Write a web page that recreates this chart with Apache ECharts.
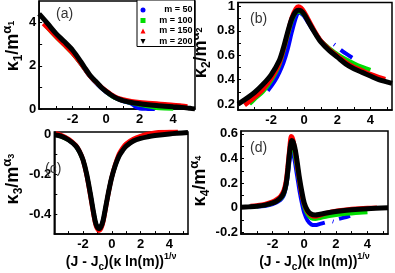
<!DOCTYPE html>
<html><head><meta charset="utf-8">
<script src="https://cdn.jsdelivr.net/npm/echarts@6/dist/echarts.min.js"></script>
<style>html,body{margin:0;padding:0;background:#fff}#c{width:395px;height:273px}</style>
</head><body><div id="c"></div>
<script>
// ---------- data ----------
const seriesNames = ['m = 50', 'm = 100', 'm = 150', 'm = 200'];
const panelLabels = ['(a)', '(b)', '(c)', '(d)'];
const xTickLabels = [-2, 0, 2, 4];
const xTicks = [-3, -2, -1, 0, 1, 2, 3, 4, 5];
const yTickLabelsA = [0, 2, 4];
const yTickLabelsB = [0.2, 0.4, 0.6, 0.8, 1];
const yTickLabelsC = [-0.4, -0.2, 0];
const yTickLabelsD = [-0.2, 0, 0.2, 0.4, 0.6];

// panel (a): kappa_1 / m^alpha_1
const k1_m50 = [[-3.0,3.40],[-2.5,2.98],[-2.0,2.58],[-1.5,2.08],[-1.0,1.54],[-0.5,1.12],[0,0.78],[0.5,0.52],[1.0,0.37],[1.5,0.25],[1.75,0.10],[2.0,0.02],[2.5,0.005],[2.9,0.0]];
const k1_m100 = [[-3.6,3.85],[-3.0,3.34],[-2.5,2.96],[-2.0,2.56],[-1.5,2.08],[-1.0,1.55],[-0.5,1.14],[0,0.80],[0.5,0.52],[1.0,0.38],[1.5,0.28],[2.0,0.20],[2.5,0.13],[3.0,0.05],[3.5,0.02],[4.0,0.01]];
const k1_m150 = [[-3.75,3.95],[-3.5,3.76],[-3.0,3.36],[-2.5,2.98],[-2.0,2.58],[-1.5,2.10],[-1.0,1.56],[-0.5,1.16],[0,0.84],[0.5,0.58],[1.0,0.44],[1.5,0.36],[2.0,0.31],[2.5,0.28],[3.0,0.25],[3.5,0.22],[4.0,0.19],[4.5,0.15],[4.85,0.12]];
const k1_m200 = [[-4.0,4.40],[-3.5,3.96],[-3.0,3.50],[-2.5,3.12],[-2.0,2.72],[-1.5,2.18],[-1.25,1.88],[-1.0,1.60],[-0.75,1.38],[-0.5,1.18],[-0.25,0.97],[0,0.81],[0.25,0.67],[0.5,0.55],[0.75,0.46],[1.0,0.39],[1.5,0.30],[2.0,0.245],[2.5,0.20],[3.0,0.16],[3.5,0.13],[4.0,0.10],[4.5,0.075],[5.0,0.03],[5.3,0.0]];

// panel (b): kappa_2 / m^alpha_2
const k2_m50 = [[-2.2,0.31],[-2.0,0.345],[-1.75,0.395],[-1.5,0.46],[-1.25,0.54],[-1.0,0.65],[-0.75,0.79],[-0.5,0.91],[-0.35,0.95],[-0.2,0.945],[0,0.92],[0.5,0.81],[1.0,0.72],[1.4,0.67],null,[1.8,0.69],[1.85,0.685],null,[2.2,0.645],[2.5,0.615],[2.9,0.58]];
const k2_m100 = [[-3.3,0.20],[-3.0,0.24],[-2.5,0.30],[-2.0,0.39],[-1.5,0.52],[-1.0,0.76],[-0.75,0.88],[-0.5,0.95],[-0.35,0.96],[0,0.93],[0.5,0.82],[1.0,0.72],[1.5,0.66],[2.0,0.61],[2.5,0.57],[3.0,0.535],[3.5,0.505],[4.0,0.48]];
const k2_m150 = [[-3.6,0.19],[-3.0,0.255],[-2.5,0.32],[-2.0,0.41],[-1.5,0.535],[-1.0,0.78],[-0.75,0.91],[-0.5,0.985],[-0.35,1.0],[-0.2,0.99],[0,0.955],[0.5,0.83],[1.0,0.72],[1.5,0.65],[2.0,0.595],[2.5,0.545],[3.0,0.505],[3.5,0.475],[4.0,0.445],[4.5,0.42],[4.9,0.405]];
const k2_m200 = [[-4.0,0.20],[-3.5,0.245],[-3.0,0.295],[-2.5,0.36],[-2.0,0.44],[-1.5,0.56],[-1.25,0.665],[-1.0,0.79],[-0.75,0.90],[-0.5,0.96],[-0.35,0.97],[-0.2,0.965],[0,0.935],[0.25,0.875],[0.5,0.815],[0.75,0.76],[1.0,0.71],[1.5,0.64],[2.0,0.585],[2.5,0.53],[3.0,0.49],[3.5,0.46],[4.0,0.43],[4.5,0.40],[5.3,0.37]];

// panel (c): kappa_3 / m^alpha_3
const k3_m50 = [[-3.0,-0.03],[-2.5,-0.06],[-2.0,-0.13],[-1.5,-0.295],[-1.25,-0.40],[-1.1,-0.45],[-0.9,-0.47],[-0.75,-0.46],[-0.6,-0.43],[-0.4,-0.355],[-0.2,-0.28],[0,-0.215],[0.5,-0.11],[1.0,-0.058],[1.5,-0.03],[2.0,-0.015],[2.5,-0.004],[2.8,0.002]];
const k3_m100 = [[-3.7,-0.008],[-3.0,-0.03],[-2.5,-0.06],[-2.0,-0.13],[-1.75,-0.20],[-1.5,-0.295],[-1.25,-0.40],[-1.1,-0.45],[-0.9,-0.475],[-0.75,-0.465],[-0.6,-0.432],[-0.4,-0.355],[-0.2,-0.28],[0,-0.215],[0.5,-0.108],[1.0,-0.056],[1.5,-0.03],[2.0,-0.015],[2.5,-0.006],[3.0,0.0],[3.5,0.004],[3.9,0.006]];
const k3_m150 = [[-3.9,0.004],[-3.5,-0.006],[-3.0,-0.025],[-2.5,-0.056],[-2.25,-0.085],[-2.0,-0.13],[-1.75,-0.205],[-1.5,-0.305],[-1.25,-0.41],[-1.1,-0.46],[-0.9,-0.483],[-0.75,-0.473],[-0.6,-0.44],[-0.4,-0.36],[-0.2,-0.282],[0,-0.215],[0.25,-0.15],[0.5,-0.10],[0.75,-0.07],[1.0,-0.048],[1.5,-0.025],[2.0,-0.01],[2.5,0.0],[3.0,0.006],[3.5,0.01],[4.0,0.012],[4.6,0.014]];
const k3_m200 = [[-4.0,-0.004],[-3.5,-0.012],[-3.0,-0.03],[-2.5,-0.06],[-2.25,-0.088],[-2.0,-0.13],[-1.75,-0.20],[-1.5,-0.295],[-1.25,-0.40],[-1.1,-0.45],[-0.9,-0.472],[-0.75,-0.462],[-0.6,-0.43],[-0.4,-0.355],[-0.2,-0.28],[0,-0.215],[0.25,-0.155],[0.5,-0.11],[0.75,-0.082],[1.0,-0.06],[1.5,-0.035],[2.0,-0.022],[2.5,-0.014],[3.0,-0.008],[4.0,0.0],[5.3,0.007]];

// panel (d): kappa_4 / m^alpha_4
const k4_m50 = [[-3.0,0.01],[-2.5,0.015],[-2.0,0.03],[-1.5,0.065],[-1.3,0.10],[-1.15,0.17],[-1.05,0.25],[-0.95,0.36],[-0.85,0.44],[-0.78,0.455],[-0.7,0.44],[-0.6,0.38],[-0.5,0.30],[-0.4,0.22],[-0.3,0.14],[-0.15,0.04],[0,-0.04],[0.2,-0.10],[0.45,-0.135],[0.7,-0.14],[1.0,-0.13],[1.3,-0.12],null,[1.8,-0.11],[1.85,-0.112],null,[2.2,-0.09],[2.5,-0.08],[2.9,-0.065]];
const k4_m100 = [[-3.2,0.01],[-2.5,0.02],[-2.0,0.037],[-1.5,0.075],[-1.3,0.11],[-1.15,0.18],[-1.05,0.27],[-0.95,0.40],[-0.85,0.49],[-0.75,0.51],[-0.68,0.49],[-0.6,0.43],[-0.5,0.36],[-0.4,0.28],[-0.3,0.20],[-0.15,0.10],[0,0.01],[0.2,-0.05],[0.45,-0.085],[0.7,-0.09],[1.0,-0.082],[1.5,-0.068],[2.0,-0.058],[2.5,-0.05],[3.0,-0.045],[3.5,-0.04],[4.0,-0.035]];
const k4_m150 = [[-3.4,0.015],[-3.0,0.02],[-2.5,0.03],[-2.0,0.05],[-1.75,0.068],[-1.5,0.095],[-1.3,0.14],[-1.15,0.22],[-1.05,0.33],[-0.95,0.46],[-0.87,0.56],[-0.82,0.58],[-0.75,0.57],[-0.65,0.52],[-0.55,0.44],[-0.45,0.35],[-0.35,0.26],[-0.2,0.14],[0,0.03],[0.2,-0.03],[0.45,-0.062],[0.7,-0.07],[1.0,-0.06],[1.5,-0.04],[2.0,-0.026],[2.5,-0.017],[3.0,-0.01],[3.5,-0.005],[4.0,-0.002],[4.6,0.0]];
const k4_m200 = [[-4.0,0.004],[-3.5,0.008],[-3.0,0.013],[-2.5,0.022],[-2.0,0.04],[-1.75,0.055],[-1.5,0.08],[-1.3,0.12],[-1.15,0.19],[-1.05,0.29],[-0.95,0.42],[-0.85,0.52],[-0.78,0.545],[-0.7,0.535],[-0.6,0.49],[-0.5,0.42],[-0.4,0.33],[-0.3,0.24],[-0.15,0.13],[0,0.04],[0.2,-0.02],[0.4,-0.048],[0.7,-0.058],[1.0,-0.052],[1.5,-0.04],[2.0,-0.03],[3.0,-0.016],[4.0,-0.007],[5.3,0.0]];

// ---------- chart ----------
const FONT = 'Liberation Sans, Arial, sans-serif';
const colors = ['#0000ff', '#00dd00', '#ff0000', '#000000'];
const widths = [4, 4, 4.5, 5];
const panels = [
  [k1_m50, k1_m100, k1_m150, k1_m200],
  [k2_m50, k2_m100, k2_m150, k2_m200],
  [k3_m50, k3_m100, k3_m150, k3_m200],
  [k4_m50, k4_m100, k4_m150, k4_m200]
];

const grids = [
  {left: 32, top: 1, width: 163, height: 108},
  {left: 238, top: 1, width: 154, height: 109},
  {left: 38, top: 132, width: 150, height: 108},
  {left: 241, top: 131, width: 147, height: 109}
].map(g => Object.assign({show: true, borderColor: '#000', borderWidth: 1.5, backgroundColor: '#fff'}, g));

const yRanges = [[0, 5], [0.1515, 1.032], [-0.5, 0.01], [-0.213, 0.623]];
const yLabelVals = [yTickLabelsA, yTickLabelsB, yTickLabelsC, yTickLabelsD];
const yTickVals = [
  [0, 1, 2, 3, 4],
  [0.2, 0.3, 0.4, 0.5, 0.6, 0.7, 0.8, 0.9, 1.0],
  [-0.4, -0.3, -0.2, -0.1, 0],
  [-0.2, -0.1, 0, 0.1, 0.2, 0.3, 0.4, 0.5, 0.6]
];
const yNameGaps = [6, 12, 14, 14];
const yNameShift = [18, 7, 8, 3];

function yName(i) {
  const d = String(i + 1);
  return '{gap|}{k|κ}{sb|' + d + '}{k|/m}{sp|α}{ssp|' + d + '}';
}
function yRich(i) {
  return {
    gap: {width: yNameShift[i], fontSize: 10},
    k: {fontFamily: FONT, fontSize: 18, fontWeight: 'bold', color: '#000', lineHeight: 24, verticalAlign: 'middle'},
    sb: {fontFamily: FONT, fontSize: 12, fontWeight: 'bold', color: '#000', verticalAlign: 'bottom'},
    sp: {fontFamily: FONT, fontSize: 13, fontWeight: 'bold', color: '#000', verticalAlign: 'top'},
    ssp: {fontFamily: FONT, fontSize: 9, fontWeight: 'bold', color: '#000', verticalAlign: 'top', padding: [6, 0, 0, 0]}
  };
}
const xName = '{t|(J - J}{sb|c}{t|)(κ ln(m))}{sp|1/ν}';
const xRich = {
  t: {fontFamily: FONT, fontSize: 14, fontWeight: 'bold', color: '#000', lineHeight: 20, verticalAlign: 'middle'},
  sb: {fontFamily: FONT, fontSize: 10, fontWeight: 'bold', color: '#000', verticalAlign: 'bottom'},
  sp: {fontFamily: FONT, fontSize: 9, fontWeight: 'bold', color: '#000', verticalAlign: 'top'}
};

const axisLabelStyle = {fontFamily: FONT, fontSize: 13, fontWeight: 'bold', color: '#000'};

const xAxes = grids.map((g, i) => ({
  type: 'value', gridIndex: i, min: -4, max: 5.3,
  axisLine: {show: true, onZero: false, lineStyle: {color: '#000', width: 1.5}},
  axisTick: {show: true, inside: true, length: 3, customValues: xTicks, lineStyle: {color: '#000'}},
  axisLabel: Object.assign({show: true, margin: 4, customValues: xTickLabels}, axisLabelStyle),
  splitLine: {show: false},
  name: i >= 2 ? xName : '',
  nameLocation: 'middle', nameGap: 12,
  nameTextStyle: {rich: xRich}
}));

const yAxes = grids.map((g, i) => ({
  type: 'value', gridIndex: i, min: yRanges[i][0], max: yRanges[i][1],
  axisLine: {show: true, onZero: false, lineStyle: {color: '#000', width: 1.5}},
  axisTick: {show: true, inside: true, length: 3, customValues: yTickVals[i], lineStyle: {color: '#000'}},
  axisLabel: Object.assign({show: true, margin: 3, customValues: yLabelVals[i]}, axisLabelStyle),
  splitLine: {show: false},
  name: yName(i), nameLocation: 'middle', nameGap: yNameGaps[i],
  nameTextStyle: {rich: yRich(i)}
}));

const series = [];
panels.forEach((p, pi) => {
  p.forEach((data, si) => {
    series.push({
      type: 'line', name: seriesNames[si], xAxisIndex: pi, yAxisIndex: pi,
      data: data.map(d => d === null ? [null, null] : d),
      showSymbol: false, smooth: 0.3, connectNulls: false,
      lineStyle: {color: colors[si], width: widths[si]},
      itemStyle: {color: colors[si]},
      z: 2 + si, animation: false, silent: true
    });
  });
});

const graphics = [
  {left: 56, top: 7, text: panelLabels[0]},
  {left: 250, top: 12, text: panelLabels[1]},
  {left: 45, top: 162, text: panelLabels[2]},
  {left: 250, top: 141, text: panelLabels[3]}
].map(o => ({type: 'text', left: o.left, top: o.top, z: 50,
  style: {text: o.text, fontFamily: FONT, fontSize: 14, fill: '#333'}}));

const chart = echarts.init(document.getElementById('c'), null, {renderer: 'canvas'});
chart.setOption({
  animation: false,
  grid: grids, xAxis: xAxes, yAxis: yAxes, series: series,
  legend: {
    orient: 'vertical', left: 137, top: 0, z: 20,
    padding: [5, 2, 0, 3.5], itemGap: 0.5, itemWidth: 5, itemHeight: 5,
    borderColor: '#000', borderWidth: 1, backgroundColor: '#fff',
    data: [
      {name: seriesNames[0], icon: 'circle'},
      {name: seriesNames[1], icon: 'rect'},
      {name: seriesNames[2], icon: 'triangle'},
      {name: seriesNames[3], icon: 'path://M0,0 L10,0 L5,10 Z'}
    ],
    formatter: n => '{r|' + n + '}',
    textStyle: {fontFamily: FONT, fontSize: 9, fontWeight: 'bold', color: '#000', lineHeight: 10,
      rich: {r: {fontFamily: FONT, fontSize: 9, fontWeight: 'bold', color: '#000', lineHeight: 10, width: 42, align: 'right'}}}
  },
  graphic: graphics
});
</script></body></html>
